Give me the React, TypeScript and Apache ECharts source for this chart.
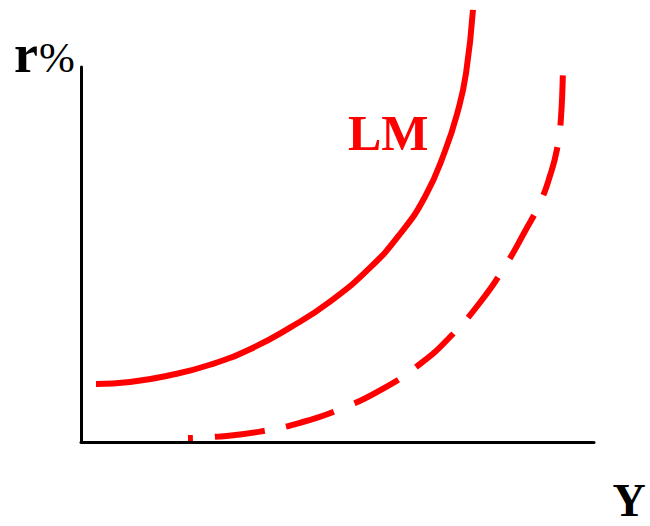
import React, { useEffect, useRef } from "react";
import * as echarts from "echarts";

// Solid LM curve (x: 0..100 along Y axis, y: 0..100 along r% axis)
const lmSolid: [number, number][] = [
  [2.92, 15.47], [9.55, 16.0], [17.35, 17.81], [25.15, 20.6], [32.94, 24.75],
  [40.74, 30.51], [48.54, 37.44], [56.34, 46.5], [62.18, 55.47], [67.06, 65.4],
  [70.96, 77.6], [73.49, 88.4], [75.05, 98.3], [76.41, 115.23],
];

// Dashed (shifted) LM curve
const lmDashed: [number, number][] = [
  [20.86, 1.07], [27.1, 1.49], [34.89, 2.77], [42.69, 5.12], [50.49, 8.75],
  [58.28, 13.76], [66.08, 20.8], [71.93, 28.0], [77.78, 37.2], [82.65, 46.87],
  [86.55, 56.2], [89.47, 63.8], [91.42, 71.0], [92.79, 78.09], [93.57, 86.63],
  [93.96, 101.07],
];

const curveLabel = "LM";
const yAxisTitle = "r";
const yAxisTitleSuffix = "%";
const xAxisTitle = "Y";

export default function App() {
  const ref = useRef<HTMLDivElement>(null);

  useEffect(() => {
    document.body.style.margin = "0";
    document.body.style.background = "#ffffff";
    if (!ref.current) return;
    const chart = echarts.init(ref.current, null, { renderer: "svg" });
    const serif = "'Liberation Serif', 'DejaVu Serif', serif";
    chart.setOption({
      animation: false,
      backgroundColor: "#ffffff",
      grid: { left: 81, right: 56, top: 67, bottom: 84 },
      xAxis: {
        type: "value",
        min: 0,
        max: 100,
        axisLine: { show: true, lineStyle: { color: "#000", width: 3 } },
        axisTick: { show: false },
        axisLabel: { show: false },
        splitLine: { show: false },
      },
      yAxis: {
        type: "value",
        min: 0,
        max: 100,
        axisLine: { show: true, lineStyle: { color: "#000", width: 3 } },
        axisTick: { show: false },
        axisLabel: { show: false },
        splitLine: { show: false },
      },
      series: [
        {
          type: "line",
          data: lmSolid,
          smooth: 0.5,
          showSymbol: false,
          clip: false,
          lineStyle: { color: "#ff0000", width: 6, cap: "butt" },
          z: 3,
        },
        {
          type: "line",
          data: lmDashed,
          smooth: 0.5,
          showSymbol: false,
          clip: false,
          lineStyle: {
            color: "#ff0000",
            width: 6,
            type: [50, 22],
            dashOffset: 45,
            cap: "butt",
          },
          z: 3,
        },
      ],
      graphic: [
        {
          type: "text",
          x: 348,
          y: 133,
          style: {
            text: curveLabel,
            fill: "#ff0000",
            font: `bold 50px ${serif}`,
            verticalAlign: "middle",
            lineHeight: 40,
          },
        },
        {
          type: "text",
          x: 14,
          y: 54,
          style: {
            text: yAxisTitle,
            fill: "#000",
            font: `bold 54px ${serif}`,
            verticalAlign: "middle",
            lineHeight: 40,
          },
        },
        {
          type: "text",
          x: 39,
          y: 57,
          style: {
            text: yAxisTitleSuffix,
            fill: "#000",
            font: `43px ${serif}`,
            verticalAlign: "middle",
            lineHeight: 34,
          },
        },
        {
          type: "text",
          x: 629,
          y: 500,
          style: {
            text: xAxisTitle,
            fill: "#000",
            font: `bold 46px ${serif}`,
            align: "center",
            verticalAlign: "middle",
            lineHeight: 34,
          },
        },
      ],
    });
    return () => chart.dispose();
  }, []);

  return <div ref={ref} style={{ width: 650, height: 526 }} />;
}
